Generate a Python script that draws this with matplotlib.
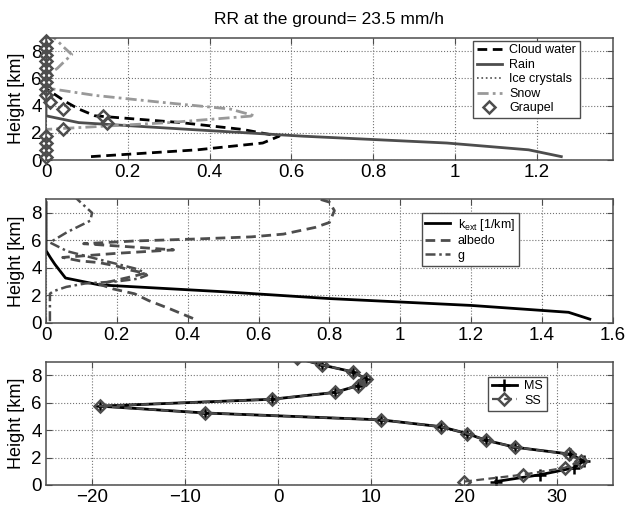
import matplotlib
matplotlib.use("Agg")
import matplotlib.pyplot as plt
from matplotlib.ticker import FuncFormatter

plt.rcParams["font.family"] = ["Liberation Sans", "DejaVu Sans"]
plt.rcParams["mathtext.default"] = "regular"

# model levels [km]
height = [0.25, 0.75, 1.25, 1.75, 2.25, 2.75, 3.25, 3.75, 4.25,
          4.75, 5.25, 5.75, 6.25, 6.75, 7.25, 7.75, 8.25, 8.75]
height_ext = height + [9.25]

# hydrometeor contents
cloud_water = [0.11, 0.37, 0.53, 0.57, 0.48, 0.33, 0.12, 0.08, 0.05,
               0.025, 0.0, 0.0, 0.0, 0.0, 0.0, 0.0, 0.0, 0.0]
rain = [1.26, 1.18, 0.98, 0.63, 0.35, 0.08, 0.0, 0.0, 0.0,
        0.0, 0.0, 0.0, 0.0, 0.0, 0.0, 0.0, 0.0, 0.0]
ice_crystals = [0.0] * 18
snow = [0.0, 0.0, 0.0, 0.0, 0.0, 0.3, 0.51, 0.45, 0.28,
        0.12, 0.01, 0.0, 0.005, 0.028, 0.045, 0.063, 0.045, 0.028, 0.01]
graupel = [0.0, 0.0, 0.0, 0.0, 0.042, 0.148, 0.139, 0.042, 0.01,
           0.0, 0.0, 0.0, 0.0, 0.0, 0.0, 0.0, 0.0, 0.0]

# optical properties
k_ext = [1.535, 1.475, 1.2, 0.8, 0.5, 0.15, 0.055, 0.04, 0.025,
         0.012, 0.0, 0.0, 0.0, 0.0, 0.0, 0.0, 0.0, 0.0]
albedo_h = [0.3, 1.0, 1.6, 2.1, 2.45, 2.8, 3.1, 3.4, 3.6, 3.87, 4.12, 4.37,
            4.5, 4.75, 5.05, 5.3, 5.5, 5.75, 5.95, 6.1, 6.25, 6.45, 6.94,
            7.3, 8.16, 8.78, 9.1]
albedo = [0.415, 0.35, 0.29, 0.25, 0.19, 0.15, 0.2, 0.25, 0.28, 0.23, 0.2, 0.15,
          0.095, 0.047, 0.2, 0.36, 0.25, 0.106, 0.25, 0.43, 0.58, 0.67, 0.76,
          0.8, 0.814, 0.8, 0.76]
g_h = [0.1, 2.1, 2.28, 2.6, 2.85, 3.0, 3.2, 3.45, 3.7, 3.95, 4.6, 5.2,
       5.84, 6.6, 7.43, 8.0, 8.9, 9.2]
g = [0.011, 0.011, 0.02, 0.057, 0.11, 0.2, 0.26, 0.285, 0.275, 0.25, 0.15, 0.06,
     0.011, 0.06, 0.125, 0.13, 0.092, 0.08]

# brightness temperature differences
ms = [23.4, 28.2, 31.8, 32.9, 31.4, 25.5, 22.4, 20.3, 17.5,
      11.0, -7.9, -19.2, -0.7, 6.1, 8.6, 9.4, 8.0, 4.7, 2.0]
ss = [20.0, 26.3, 30.8, 32.6, 31.3, 25.5, 22.4, 20.3, 17.5,
      11.0, -7.9, -19.2, -0.7, 6.1, 8.6, 9.4, 8.0, 4.7, 2.0]

dark = (0.3, 0.3, 0.3)
light = (0.6, 0.6, 0.6)

fig = plt.figure(figsize=(6.27, 5.08), dpi=100)
ax1 = fig.add_axes([0.0734, 0.685, 0.904, 0.241])
ax2 = fig.add_axes([0.0734, 0.365, 0.904, 0.243])
ax3 = fig.add_axes([0.0734, 0.0453, 0.904, 0.243])

fmt = FuncFormatter(lambda v, p: f"{v:g}".replace("-", "\u2212"))

for ax in (ax1, ax2, ax3):
    ax.set_ylim(0, 9)
    ax.set_yticks([0, 2, 4, 6, 8])
    ax.grid(True, linestyle=":", color=(0.45, 0.45, 0.45), linewidth=0.8)
    ax.tick_params(direction="in", top=True, right=True, length=4,
                   labelsize=13.5, color=dark, pad=3)
    for s in ax.spines.values():
        s.set_color(dark)
        s.set_linewidth(1.1)
    ax.xaxis.set_major_formatter(fmt)
    ax.set_ylabel("Height [km]", fontsize=13)
    ax.yaxis.set_label_coords(-0.037, 0.5)


def boxed_legend(ax, anchor):
    leg = ax.legend(loc="upper right", bbox_to_anchor=anchor, fontsize=9,
                    fancybox=False, edgecolor=dark, framealpha=1, handlelength=2.0,
                    handletextpad=0.6, borderpad=0.3, labelspacing=0.2,
                    borderaxespad=0)
    leg.get_frame().set_linewidth(1.0)
    return leg


# hydrometeors
ax1.plot(cloud_water, height, color="black", lw=2, ls=(0, (3.5, 2)), label="Cloud water")
ax1.plot(rain, height, color=dark, lw=2, label="Rain")
ax1.plot(ice_crystals, height, color=dark, lw=1.2, ls=":", label="Ice crystals")
ax1.plot(snow, height_ext, color=light, lw=2, ls=(0, (4, 1.5, 1, 1.5)), label="Snow")
ax1.plot(graupel, height, ls="none", marker="D", ms=6, mfc="none", mec=dark,
         mew=1.8, clip_on=False, zorder=5, label="Graupel")
ax1.set_xlim(0, 1.386)
ax1.set_xticks([0, 0.2, 0.4, 0.6, 0.8, 1.0, 1.2])
boxed_legend(ax1, (0.942, 0.975))
ax1.set_title("RR at the ground= 23.5 mm/h", fontsize=12.5, pad=10)

# optical properties
ax2.plot(k_ext, height, color="black", lw=2, label=r"k$_{ext}$ [1/km]")
ax2.plot(albedo, albedo_h, color=dark, lw=2, ls=(0, (3.5, 2)), label="albedo")
ax2.plot(g, g_h, color=dark, lw=1.8, ls=(0, (4, 1.5, 1, 1.5)), label="g")
ax2.set_xlim(0, 1.6)
ax2.set_xticks([0, 0.2, 0.4, 0.6, 0.8, 1.0, 1.2, 1.4, 1.6])
boxed_legend(ax2, (0.834, 0.887))

# multiple vs single scattering
ax3.plot(ms, height_ext, color="black", lw=2, marker="+", ms=8, mew=1.8, label="MS")
ax3.plot(ss, height_ext, color=dark, lw=1.6, ls=(0, (3.5, 2)), marker="D", ms=6,
         mfc="none", mec=dark, mew=1.8, label="SS")
ax3.set_xlim(-25, 36)
ax3.set_xticks([-20, -10, 0, 10, 20, 30])
boxed_legend(ax3, (0.883, 0.878))

fig.savefig("out.png", dpi=100)
